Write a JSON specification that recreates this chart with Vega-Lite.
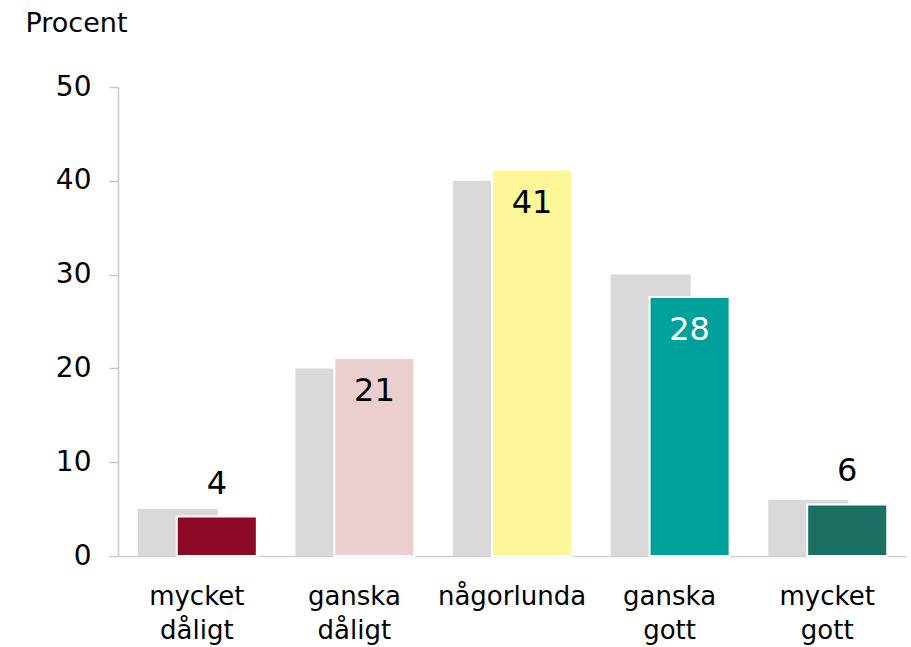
{
  "$schema": "https://vega.github.io/schema/vega-lite/v6.json",
  "width": 788,
  "height": 469,
  "autosize": {"type": "none"},
  "padding": {"left": 118, "top": 87, "right": 5, "bottom": 91},
  "background": "white",
  "config": {
    "view": {"stroke": null},
    "font": "DejaVu Sans"
  },
  "data": {
    "values": [
      {"kat": "mycket dåligt", "tidigare": 5, "varde": 4.2, "etikett": "4"},
      {"kat": "ganska dåligt", "tidigare": 20, "varde": 21.1, "etikett": "21"},
      {"kat": "någorlunda", "tidigare": 40, "varde": 41.2, "etikett": "41"},
      {"kat": "ganska gott", "tidigare": 30, "varde": 27.6, "etikett": "28"},
      {"kat": "mycket gott", "tidigare": 6, "varde": 5.5, "etikett": "6"}
    ]
  },
  "encoding": {
    "x": {
      "field": "kat",
      "type": "nominal",
      "sort": null,
      "scale": {"paddingInner": 0, "paddingOuter": 0},
      "axis": {
        "title": null,
        "labelAngle": 0,
        "ticks": false,
        "domainColor": "#d0d0d0",
        "domainWidth": 1.5,
        "labelFontSize": 26,
        "labelColor": "black",
        "labelPadding": 27,
        "labelLineHeight": 34,
        "labelExpr": "split(datum.label, ' ')"
      }
    }
  },
  "layer": [
    {
      "mark": {"type": "bar", "color": "#d9d9d9", "width": {"band": 0.508}, "xOffset": -19},
      "encoding": {
        "y": {
          "field": "tidigare",
          "type": "quantitative",
          "scale": {"domain": [0, 50]},
          "axis": {
            "values": [0, 10, 20, 30, 40, 50],
            "grid": false,
            "domainColor": "#c8c8c8",
            "domainWidth": 1.5,
            "tickColor": "#c8c8c8",
            "tickWidth": 1.5,
            "tickSize": 9,
            "labelFontSize": 28,
            "labelColor": "black",
            "labelPadding": 18,
            "title": "Procent",
            "titleAngle": 0,
            "titleAlign": "left",
            "titleBaseline": "middle",
            "titleX": -93,
            "titleY": -64,
            "titleFontSize": 27,
            "titleFontWeight": "normal",
            "titleColor": "black"
          }
        }
      }
    },
    {
      "mark": {"type": "bar", "width": {"band": 0.508}, "xOffset": 20, "stroke": "white", "strokeWidth": 2},
      "encoding": {
        "y": {"field": "varde", "type": "quantitative"},
        "color": {
          "field": "kat",
          "type": "nominal",
          "legend": null,
          "scale": {
            "domain": ["mycket dåligt", "ganska dåligt", "någorlunda", "ganska gott", "mycket gott"],
            "range": ["#8c0a26", "#ebcfcf", "#fff599", "#00a19a", "#1b7063"]
          }
        }
      }
    },
    {
      "transform": [{"filter": "datum.varde >= 10"}],
      "mark": {"type": "text", "xOffset": 20, "dy": 33, "fontSize": 32, "baseline": "middle"},
      "encoding": {
        "y": {"field": "varde", "type": "quantitative"},
        "text": {"field": "etikett"},
        "color": {"condition": {"test": "datum.kat == 'ganska gott'", "value": "white"}, "value": "black"}
      }
    },
    {
      "transform": [{"filter": "datum.varde < 10"}],
      "mark": {"type": "text", "xOffset": 20, "dy": -33, "fontSize": 32, "baseline": "middle", "color": "black"},
      "encoding": {
        "y": {"field": "varde", "type": "quantitative"},
        "text": {"field": "etikett"}
      }
    }
  ],
  "resolve": {"scale": {"color": "independent"}}
}
